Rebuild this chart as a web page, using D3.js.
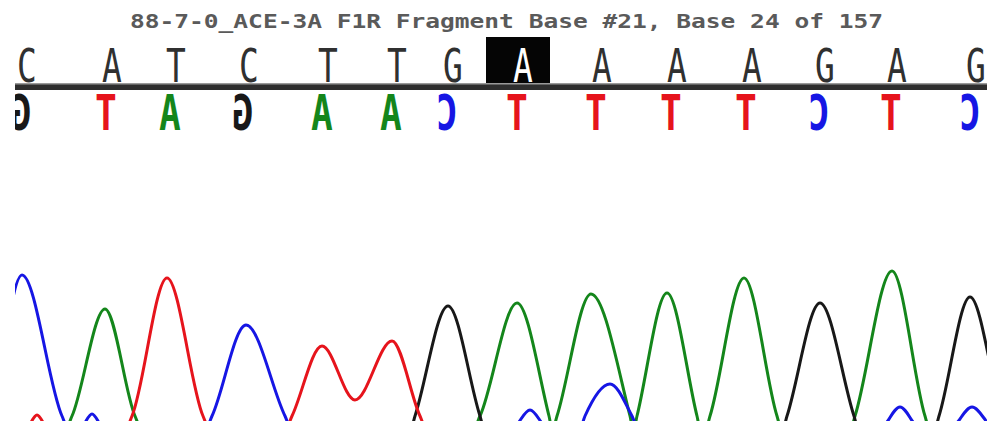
<!DOCTYPE html>
<html>
<head>
<meta charset="utf-8">
<script src="https://cdn.jsdelivr.net/npm/d3@7"></script>
<style>
    body { margin: 0; background: #fff; }
    svg { display: block; }
</style>
</head>
<body>
<div class="chromatogram"></div>
<script>
const title = "88-7-0_ACE-3A F1R Fragment Base #21, Base 24 of 157"

// called bases and where they sit (scan units)
const baseCalls = ["C", "A", "T", "C", "T", "T", "G", "A", "A", "A", "A", "G", "A", "G"]
const basePositions = [6, 91, 155, 228, 307, 376, 432, 502, 581, 656, 731, 804, 876, 955]
const selectedBase = 7

// traces, [scan, intensity]
const traceA = [[-15, 0], [51, 0], [57, 120], [90, 1190], [120, 120], [126, 0],
    [459, 0], [465, 120], [502, 1250], [534, 120], [537, 0],
    [538, 0], [542, 120], [576, 1340], [615, 120], [618, 0],
    [619, 0], [622, 120], [652, 1350], [682, 120], [685, 0],
    [691, 0], [695, 120], [729, 1500], [762, 120], [766, 0],
    [836, 0], [840, 120], [877, 1570], [910, 120], [914, 0], [990, 0]]
const traceC = [[-15, 480], [7, 1530], [47, 120], [53, 0], [65, 0], [77, 140], [89, 0],
    [191, 0], [197, 120], [231, 1030], [270, 120], [276, 0],
    [497, 0], [515, 180], [533, 0], [565, 0], [570, 120], [595, 440], [617, 120], [623, 0],
    [865, 0], [885, 210], [905, 0], [935, 0], [957, 210], [980, 0], [990, 0]]
const traceG = [[-15, 0], [396, 0], [400, 120], [433, 1220], [465, 120], [469, 0],
    [768, 0], [772, 120], [805, 1250], [839, 120], [843, 0],
    [920, 0], [924, 120], [955, 1310], [987, 120], [991, 0]]
const traceT = [[-15, 0], [11, 0], [22, 130], [33, 0], [111, 0], [117, 120], [152, 1500], [188, 120], [194, 0],
    [271, 0], [277, 120], [307, 820], [340, 280], [377, 870], [405, 120], [411, 0], [990, 0]]

const width = 987,
    height = 421,
    left = 15

const svg = d3.select(".chromatogram")
    .append("svg")
    .attr("width", width)
    .attr("height", height)

const x = d3.scaleLinear().domain([0, 972]).range([left, width])
const y = d3.scaleLinear().domain([0, 1600]).range([428, 268])
const color = d3.scaleOrdinal()
    .domain(["A", "C", "G", "T"])
    .range(["#14861b", "#1616e4", "#181818", "#e6141c"])
const complement = { A: "T", C: "G", G: "C", T: "A" }

svg.append("clipPath").attr("id", "plot-clip")
    .append("rect")
    .attr("x", left).attr("y", 0)
    .attr("width", width - left).attr("height", height)

// title
svg.append("text")
    .attr("x", 130)
    .attr("y", 28)
    .attr("textLength", 753)
    .attr("lengthAdjust", "spacingAndGlyphs")
    .style("font-family", "DejaVu Sans Mono")
    .style("font-weight", "bold")
    .style("font-size", "19px")
    .style("fill", "#5a5a5a")
    .text(title)

// highlight of the current base
const boxWidth = 64
svg.append("rect")
    .attr("x", x(basePositions[selectedBase]) - boxWidth / 2 + 1)
    .attr("y", 37)
    .attr("width", boxWidth)
    .attr("height", 48)
    .style("fill", "#050505")

// separator line
svg.append("rect")
    .attr("x", left)
    .attr("y", 84)
    .attr("width", width - left)
    .attr("height", 6)
    .style("fill", "#2e2e2e")
svg.append("rect")
    .attr("x", left)
    .attr("y", 83)
    .attr("width", width - left)
    .attr("height", 1.5)
    .style("fill", "#9a9a9a")

// base calls
svg.append("g")
    .selectAll("text")
    .data(baseCalls)
    .enter()
    .append("text")
    .attr("transform", (d, i) => `translate(${x(basePositions[i]) + 6},82) scale(0.7,1)`)
    .attr("text-anchor", "middle")
    .style("font-family", "DejaVu Sans Mono")
    .style("font-size", "47px")
    .style("fill", (d, i) => i === selectedBase ? "#ffffff" : "#303030")
    .text(d => d)

// complement strand, mirrored
svg.append("g")
    .attr("clip-path", "url(#plot-clip)")
    .selectAll("text")
    .data(baseCalls)
    .enter()
    .append("text")
    .attr("transform", (d, i) => `translate(${x(basePositions[i])},130) scale(-0.72,1)`)
    .attr("text-anchor", "middle")
    .style("font-family", "DejaVu Sans Mono")
    .style("font-weight", "bold")
    .style("font-size", "50px")
    .style("fill", d => color(complement[d]))
    .text(d => complement[d])

// traces
const line = d3.line()
    .x(d => x(d[0]))
    .y(d => y(d[1]))
    .curve(d3.curveMonotoneX)

const traces = [["A", traceA], ["G", traceG], ["T", traceT], ["C", traceC]]
svg.append("g")
    .attr("clip-path", "url(#plot-clip)")
    .selectAll("path")
    .data(traces)
    .enter()
    .append("path")
    .attr("d", d => line(d[1]))
    .style("fill", "none")
    .style("stroke", d => color(d[0]))
    .style("stroke-width", 3)
    .style("stroke-linejoin", "round")
</script>
</body>
</html>
